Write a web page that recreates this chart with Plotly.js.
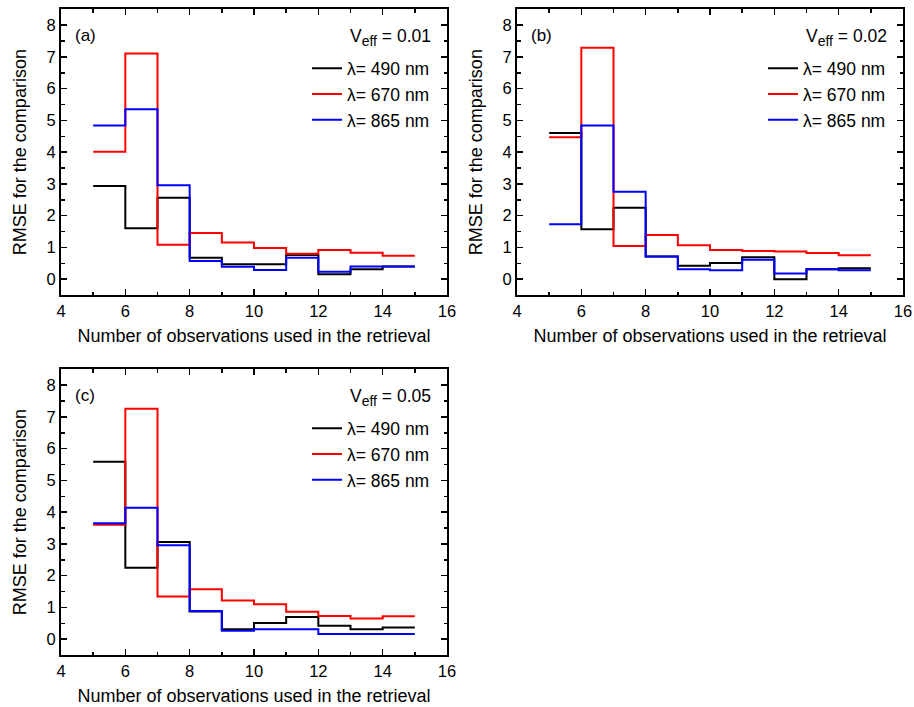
<!DOCTYPE html>
<html>
<head>
<meta charset="utf-8">
<script src="https://cdn.plot.ly/plotly-3.0.1.min.js"></script>
<style>html,body{margin:0;padding:0;background:#fff;} #chart{width:914px;height:707px;}</style>
</head>
<body>
<div id="chart"></div>
<script>
// Step edges: number of observations used in the retrieval
const obsEdges = [5, 6, 7, 8, 9, 10, 11, 12, 13, 14, 15];
const wavelengths = ['490', '670', '865'];
const veffLabels = ['0.01', '0.02', '0.05'];
const panelLabels = ['(a)', '(b)', '(c)'];

// Panel (a) Veff = 0.01
const rmseA490 = [2.93, 1.60, 2.56, 0.67, 0.47, 0.47, 0.76, 0.15, 0.31, 0.40];
const rmseA670 = [4.01, 7.11, 1.08, 1.45, 1.15, 0.98, 0.80, 0.92, 0.83, 0.74];
const rmseA865 = [4.84, 5.35, 2.96, 0.57, 0.39, 0.29, 0.67, 0.23, 0.40, 0.40];
// Panel (b) Veff = 0.02
const rmseB490 = [4.60, 1.57, 2.25, 0.71, 0.42, 0.51, 0.69, 0.00, 0.31, 0.34];
const rmseB670 = [4.47, 7.29, 1.04, 1.39, 1.07, 0.92, 0.89, 0.87, 0.82, 0.75];
const rmseB865 = [1.73, 4.84, 2.75, 0.71, 0.31, 0.28, 0.61, 0.18, 0.31, 0.28];
// Panel (c) Veff = 0.05
const rmseC490 = [5.59, 2.25, 3.06, 0.87, 0.31, 0.51, 0.70, 0.42, 0.31, 0.37];
const rmseC670 = [3.60, 7.26, 1.34, 1.57, 1.22, 1.10, 0.86, 0.73, 0.65, 0.72];
const rmseC865 = [3.65, 4.14, 2.96, 0.89, 0.26, 0.31, 0.31, 0.16, 0.16, 0.16];

const colors = ['#000000', '#ff0000', '#0000ff'];
const FONT = 'Liberation Sans, Arial, sans-serif';

const panels = [
  {series: [rmseA490, rmseA670, rmseA865], xa: 'x', ya: 'y', legend: 'legend'},
  {series: [rmseB490, rmseB670, rmseB865], xa: 'x2', ya: 'y2', legend: 'legend2'},
  {series: [rmseC490, rmseC670, rmseC865], xa: 'x3', ya: 'y3', legend: 'legend3'}
];

const traces = [];
panels.forEach(p => {
  p.series.forEach((vals, i) => {
    traces.push({
      x: obsEdges,
      y: vals.concat([vals[vals.length - 1]]),
      xaxis: p.xa, yaxis: p.ya,
      type: 'scatter', mode: 'lines',
      line: {shape: 'hv', color: colors[i], width: 2},
      name: 'λ= ' + wavelengths[i] + ' nm',
      legend: p.legend,
      showlegend: true
    });
  });
});

const W = 914, H = 707;
const boxes = [
  {l: 61, r: 447, t: 9.3, b: 295},
  {l: 517, r: 903, t: 9.3, b: 295},
  {l: 61, r: 447, t: 369.3, b: 655}
];

function xax(b, anchor) {
  return {
    domain: [b.l / W, b.r / W], anchor: anchor,
    range: [4, 16], tick0: 4, dtick: 2,
    ticks: 'inside', ticklen: 6, tickwidth: 1.5, tickcolor: '#000',
    minor: {ticks: 'inside', dtick: 1, ticklen: 3.5, tickwidth: 1.5, tickcolor: '#000'},
    showline: true, linewidth: 2, linecolor: '#000', mirror: 'allticks',
    showgrid: false, zeroline: false,
    tickfont: {family: FONT, size: 16.5, color: '#000'},
    title: {text: 'Number of observations used in the retrieval', font: {family: FONT, size: 18, color: '#000'}, standoff: 11}
  };
}
function yax(b, anchor) {
  return {
    domain: [1 - b.b / H, 1 - b.t / H], anchor: anchor,
    range: [-0.5, 8.5], tick0: 0, dtick: 1,
    ticks: 'inside', ticklen: 6, tickwidth: 1.5, tickcolor: '#000',
    minor: {ticks: 'inside', dtick: 0.5, ticklen: 3.5, tickwidth: 1.5, tickcolor: '#000'},
    showline: true, linewidth: 2, linecolor: '#000', mirror: 'allticks',
    showgrid: false, zeroline: false,
    tickfont: {family: FONT, size: 16.5, color: '#000'},
    title: {text: 'RMSE for the comparison', font: {family: FONT, size: 18, color: '#000'}, standoff: 15}
  };
}

function legendFor(b) {
  return {
    x: (b.r - 12) / W, xanchor: 'right',
    y: 1 - (b.t + 41) / H, yanchor: 'top',
    bgcolor: 'rgba(0,0,0,0)', borderwidth: 0,
    font: {family: FONT, size: 17.5, color: '#000'},
    itemwidth: 30, tracegroupgap: 0
  };
}

const annotations = [];
boxes.forEach((b, i) => {
  annotations.push({
    xref: 'paper', yref: 'paper', x: (b.l + 12) / W, y: 1 - (b.t + 26) / H,
    xanchor: 'left', yanchor: 'middle', showarrow: false,
    text: panelLabels[i], font: {family: FONT, size: 17, color: '#000'}
  });
  annotations.push({
    xref: 'paper', yref: 'paper', x: (b.r - 14) / W, y: 1 - (b.t + 28) / H,
    xanchor: 'right', yanchor: 'middle', showarrow: false,
    text: 'V<sub><span style="font-size:14px">eff</span></sub> = ' + veffLabels[i],
    font: {family: FONT, size: 17.5, color: '#000'}
  });
});

const layout = {
  width: W, height: H,
  margin: {l: 0, r: 0, t: 0, b: 0},
  paper_bgcolor: '#fff', plot_bgcolor: '#fff',
  font: {family: FONT, color: '#000'},
  xaxis: xax(boxes[0], 'y'), yaxis: yax(boxes[0], 'x'),
  xaxis2: xax(boxes[1], 'y2'), yaxis2: yax(boxes[1], 'x2'),
  xaxis3: xax(boxes[2], 'y3'), yaxis3: yax(boxes[2], 'x3'),
  legend: legendFor(boxes[0]),
  legend2: legendFor(boxes[1]),
  legend3: legendFor(boxes[2]),
  annotations: annotations
};

Plotly.newPlot('chart', traces, layout, {staticPlot: true, displayModeBar: false});
</script>
</body>
</html>
